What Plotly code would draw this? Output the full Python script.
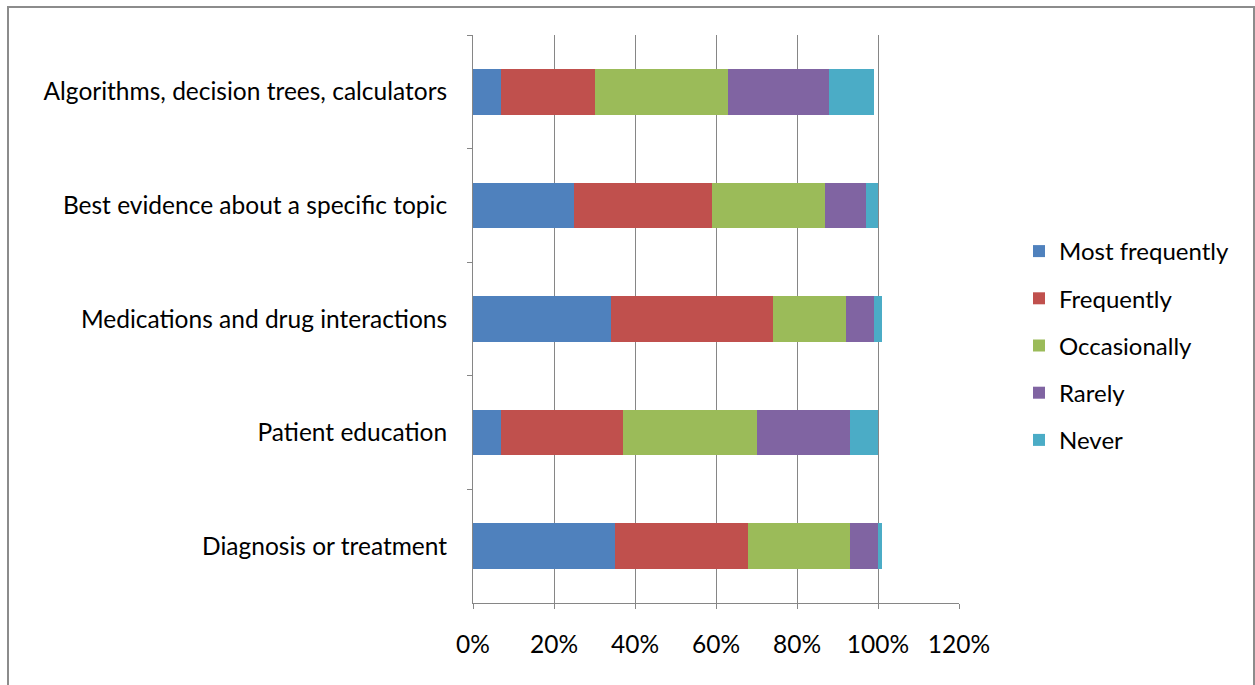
import plotly.graph_objects as go

categories = [
    "Algorithms, decision trees, calculators",
    "Best evidence about a specific topic",
    "Medications and drug interactions",
    "Patient education",
    "Diagnosis or treatment",
]
series_names = ["Most frequently", "Frequently", "Occasionally", "Rarely", "Never"]
most_frequently = [0.07, 0.25, 0.34, 0.07, 0.35]
frequently = [0.23, 0.34, 0.40, 0.30, 0.33]
occasionally = [0.33, 0.28, 0.18, 0.33, 0.25]
rarely = [0.25, 0.10, 0.07, 0.23, 0.07]
never = [0.11, 0.03, 0.02, 0.07, 0.01]
x_ticks = [0, 0.2, 0.4, 0.6, 0.8, 1.0, 1.2]

colors = ["#4F81BD", "#C0504D", "#9BBB59", "#8064A2", "#4BACC6"]
series = [most_frequently, frequently, occasionally, rarely, never]

W, H = 1255, 685
ml, mr, mt, mb = 473, 296, 35, 82
pw, ph = W - ml - mr, H - mt - mb

fig = go.Figure()
for name, vals, c in zip(series_names, series, colors):
    fig.add_trace(go.Bar(
        y=categories, x=vals, name=name, orientation="h",
        marker=dict(color=c, line=dict(width=0)),
        legendgroup=name,
    ))

font = "Lato"
fs = 24.5
grid = "#868686"

def px2paper_x(px):
    return (px - ml) / pw

def px2paper_y(py):
    return 1 - (py - mt) / ph

fig.update_layout(
    width=W, height=H,
    barmode="stack", bargap=0.6,
    plot_bgcolor="white", paper_bgcolor="white",
    margin=dict(l=ml, r=mr, t=mt, b=mb, autoexpand=False),
    font=dict(family=font, size=fs, color="#000000"),
    xaxis=dict(
        range=[0, 1.2], tickvals=x_ticks, tickformat=".0%",
        showgrid=True, gridcolor=grid, gridwidth=1,
        showline=True, linecolor=grid, linewidth=1,
        ticks="outside", ticklen=5, tickcolor=grid,
        ticklabelstandoff=15, zeroline=False,
        tickfont=dict(size=fs),
    ),
    yaxis=dict(
        autorange="reversed", showgrid=False,
        showline=True, linecolor=grid, linewidth=1,
        ticks="outside", ticklen=5, tickcolor=grid, tickson="boundaries",
        ticklabelstandoff=20, tickfont=dict(size=fs),
    ),
    legend=dict(
        x=px2paper_x(1019), y=px2paper_y(229), xanchor="left", yanchor="top",
        tracegroupgap=13, font=dict(size=24), itemwidth=30,
        bgcolor="rgba(0,0,0,0)",
    ),
    showlegend=True,
)

# outer chart border (partially outside the window, like the reference)
fig.add_shape(type="rect", xref="paper", yref="paper",
              x0=px2paper_x(8), x1=px2paper_x(1254),
              y0=px2paper_y(700), y1=px2paper_y(7),
              line=dict(color="#8c8c8c", width=2), layer="below")

fig.write_html("out.html")
